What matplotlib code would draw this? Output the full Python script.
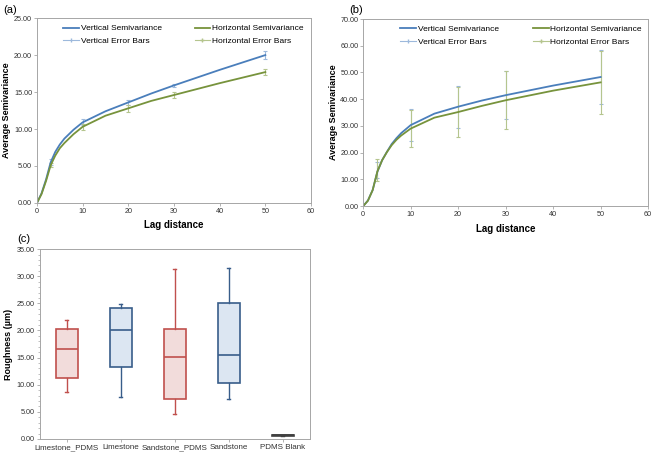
import matplotlib
matplotlib.use('Agg')
import matplotlib.pyplot as plt
from matplotlib.ticker import FormatStrFormatter, MultipleLocator

#Here we set the style of the plots
plt.rc('font', family=['Liberation Sans', 'DejaVu Sans'])
plt.rc('xtick', labelsize=5.2)
plt.rc('ytick', labelsize=5.2)

#Lag distances
lags = [0, 1, 2, 3, 4, 5, 6, 7, 8, 10, 15, 20, 25, 30, 40, 50]
a_vert = [0, 1.3, 3.2, 5.5, 6.9, 7.9, 8.7, 9.3, 9.9, 10.9, 12.4, 13.6, 14.8, 15.9, 18.0, 20.0]
a_horz = [0, 1.2, 3.0, 5.1, 6.4, 7.4, 8.1, 8.7, 9.3, 10.3, 11.8, 12.8, 13.8, 14.6, 16.2, 17.7]
b_vert = [0, 2.1, 6.0, 12.9, 17.2, 20.3, 23.2, 25.4, 27.3, 30.3, 34.6, 37.2, 39.5, 41.5, 45.1, 48.3]
b_horz = [0, 2.0, 6.0, 13.0, 17.2, 20.2, 22.8, 24.8, 26.4, 29.0, 33.1, 35.2, 37.5, 39.6, 43.2, 46.3]

#Error bar positions and sizes
err_lags = [3, 10, 20, 30, 50]
a_vert_pts = [5.5, 10.9, 13.6, 15.9, 20.0]
a_horz_pts = [5.1, 10.3, 12.8, 14.6, 17.7]
a_vert_err = [0.4, 0.4, 0.3, 0.2, 0.5]
a_horz_err = [0.3, 0.4, 0.5, 0.4, 0.4]
b_vert_pts = [13.5, 30.3, 37.2, 41.5, 48.3]
b_horz_pts = [13.5, 29.0, 35.2, 39.6, 46.3]
b_vert_err = [3.0, 6.0, 7.9, 9.0, 10.0]
b_horz_err = [4.0, 7.0, 9.4, 10.8, 11.8]

#Box plot statistics (whisker low, q1, median, q3, whisker high)
samples = ['Limestone_PDMS', 'Limestone', 'Sandstone_PDMS', 'Sandstone', 'PDMS Blank']
whis_lo = [8.7, 7.8, 4.6, 7.4, 0.62]
q1 = [11.2, 13.3, 7.4, 10.3, 0.62]
med = [16.6, 20.1, 15.1, 15.4, 0.68]
q3 = [20.3, 24.2, 20.3, 25.0, 0.74]
whis_hi = [22.0, 24.9, 31.3, 31.6, 0.74]

BLUE = '#4A7EBB'
GREEN = '#77933C'
LBLUE = '#9DB9DC'
LGREEN = '#B5C58E'
GRID = '#A6A6A6'

fig = plt.figure(figsize=(6.52, 4.53), dpi=100)
ax_a = fig.add_axes([0.0567, 0.552, 0.4203, 0.408])
ax_b = fig.add_axes([0.557, 0.545, 0.437, 0.413])
ax_c = fig.add_axes([0.061, 0.031, 0.414, 0.419])


def style_axes(ax):
    for s in ax.spines.values():
        s.set_color(GRID)
        s.set_linewidth(0.7)
    ax.tick_params(colors=GRID, labelcolor='#333333', length=2, width=0.6, pad=1.5)


def semivariance(ax, vert, horz, vpts, hpts, verr, herr, ymax, leg_x):
    ax.errorbar(err_lags, vpts, yerr=verr, fmt='none', ecolor=LBLUE, elinewidth=0.8,
                capsize=1.5, capthick=0.8)
    ax.errorbar(err_lags, hpts, yerr=herr, fmt='none', ecolor=LGREEN, elinewidth=0.8,
                capsize=1.5, capthick=0.8)
    v_line, = ax.plot(lags, vert, color=BLUE, lw=1.3)
    h_line, = ax.plot(lags, horz, color=GREEN, lw=1.3)
    #legend proxies for the error bars
    v_err, = ax.plot([], [], color=LBLUE, lw=0.8, marker='|', ms=3)
    h_err, = ax.plot([], [], color=LGREEN, lw=0.8, marker='+', ms=3)
    opts = dict(frameon=False, fontsize=6, loc='upper left', handlelength=1.9,
                handletextpad=0.2, labelspacing=0.55, borderaxespad=0, borderpad=0)
    leg1 = ax.legend([v_line, v_err], ['Vertical Semivariance', 'Vertical Error Bars'],
                     bbox_to_anchor=(leg_x[0], 0.965), **opts)
    ax.add_artist(leg1)
    ax.legend([h_line, h_err], ['Horizontal Semivariance', 'Horizontal Error Bars'],
              bbox_to_anchor=(leg_x[1], 0.965), **opts)
    ax.set_xlim(0, 60)
    ax.set_ylim(0, ymax)
    ax.set_xticks(range(0, 61, 10))
    ax.yaxis.set_major_formatter(FormatStrFormatter('%.2f'))
    ax.set_xlabel('Lag distance', fontsize=7, fontweight='bold', labelpad=4)
    ax.set_ylabel('Average Semivariance', fontsize=6.5, fontweight='bold')
    style_axes(ax)


semivariance(ax_a, a_vert, a_horz, a_vert_pts, a_horz_pts, a_vert_err, a_horz_err, 25,
             (0.095, 0.575))
ax_a.set_yticks(range(0, 26, 5))
ax_a.yaxis.set_label_coords(-0.094, 0.5)
semivariance(ax_b, b_vert, b_horz, b_vert_pts, b_horz_pts, b_vert_err, b_horz_err, 70,
             (0.13, 0.595))
ax_b.set_yticks(range(0, 71, 10))
ax_b.yaxis.set_label_coords(-0.09, 0.5)

#Box plot panel
stats = []
for i in range(len(samples)):
    stats.append({'whislo': whis_lo[i], 'q1': q1[i], 'med': med[i], 'q3': q3[i],
                  'whishi': whis_hi[i], 'label': samples[i]})
edge = ['#C0504D', '#385D8A', '#C0504D', '#385D8A', '#404040']
fill = ['#F2DCDB', '#DCE6F2', '#F2DCDB', '#DCE6F2', '#404040']
pos = list(range(1, len(samples) + 1))
for i in range(len(samples)):
    ax_c.bxp([stats[i]], positions=[pos[i]], widths=0.4, patch_artist=True, showfliers=False,
             boxprops=dict(facecolor=fill[i], edgecolor=edge[i], linewidth=1.2),
             medianprops=dict(color=edge[i], linewidth=1.2),
             whiskerprops=dict(color=edge[i], linewidth=1.0),
             capprops=dict(color=edge[i], linewidth=1.0), capwidths=0.05)
ax_c.set_xticks(pos)
ax_c.set_xticklabels(samples, fontsize=5.8)
ax_c.set_xlim(0.5, 5.5)
ax_c.set_ylim(0, 35)
ax_c.set_yticks(range(0, 36, 5))
ax_c.yaxis.set_minor_locator(MultipleLocator(1))
ax_c.yaxis.set_major_formatter(FormatStrFormatter('%.2f'))
ax_c.set_ylabel('Roughness (\u00b5m)', fontsize=6.5, fontweight='bold')
ax_c.yaxis.set_label_coords(-0.1, 0.5)
style_axes(ax_c)
ax_c.tick_params(axis='y', which='minor', length=1.5, width=0.5, colors=GRID)

fig.text(0.005, 0.972, '(a)', fontsize=8)
fig.text(0.535, 0.972, '(b)', fontsize=8)
fig.text(0.026, 0.465, '(c)', fontsize=8)

plt.savefig('out.png', dpi=100)
